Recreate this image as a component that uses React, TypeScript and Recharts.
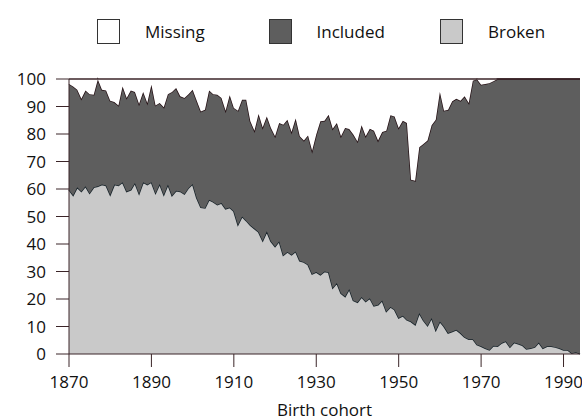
import React from "react";
import {
  AreaChart,
  Area,
  XAxis,
  YAxis,
  Label,
} from "recharts";

// one value per birth year, 1870 to 1994 (shares in %)
const START_YEAR = 1870;

const broken = [
  59.7, 57.7, 60.6, 59.1, 61.0, 58.5, 60.6, 61.0, 61.6, 61.3,
  57.9, 61.6, 61.3, 62.5, 59.1, 59.7, 62.2, 58.3, 62.5, 61.6,
  62.5, 58.5, 61.8, 57.9, 61.6, 57.6, 59.4, 59.1, 58.2, 60.4,
  61.8, 56.7, 53.3, 53.1, 56.1, 55.3, 54.3, 54.9, 52.8, 53.3,
  51.9, 47.0, 50.0, 48.5, 46.8, 45.6, 44.4, 41.2, 44.6, 41.0,
  39.1, 41.0, 35.9, 37.1, 36.1, 37.3, 33.9, 33.4, 32.5, 29.1,
  29.8, 28.8, 30.0, 29.7, 24.0, 25.8, 22.1, 20.9, 23.6, 19.5,
  18.8, 20.7, 19.1, 20.3, 17.5, 17.9, 19.5, 15.5, 17.1, 16.1,
  13.1, 13.9, 12.4, 11.8, 10.6, 14.9, 12.2, 10.3, 13.1, 8.6,
  11.8, 10.0, 7.6, 8.2, 8.8, 7.6, 6.1, 5.4, 5.4, 3.4,
  2.8, 2.1, 1.5, 3.0, 2.8, 4.0, 4.6, 2.5, 4.2, 3.7,
  3.2, 1.8, 2.1, 2.5, 4.2, 2.1, 2.8, 2.8, 2.5, 2.1,
  1.5, 1.5, 0.3, 0.6, 0.1,
];

const included = [
  38.5, 39.6, 35.5, 33.7, 34.8, 36.0, 33.7, 38.8, 34.5, 34.5,
  34.2, 30.0, 29.1, 34.8, 34.0, 36.1, 33.1, 32.6, 32.8, 29.7,
  35.4, 31.9, 29.5, 31.8, 32.9, 37.7, 37.3, 34.6, 34.9, 34.1,
  34.3, 35.4, 34.9, 35.7, 39.7, 39.2, 40.0, 38.2, 35.7, 40.8,
  37.6, 41.5, 42.5, 44.0, 37.8, 35.6, 42.9, 41.2, 41.8, 41.2,
  40.1, 43.0, 47.5, 48.1, 44.6, 48.3, 45.3, 44.2, 47.0, 44.8,
  50.0, 55.8, 54.8, 57.3, 57.9, 58.2, 57.1, 61.3, 58.2, 60.3,
  58.5, 62.5, 60.1, 61.6, 63.7, 59.7, 61.2, 65.7, 69.7, 70.3,
  69.1, 70.9, 71.6, 51.6, 52.4, 60.3, 64.2, 67.3, 70.1, 76.6,
  83.5, 78.5, 81.2, 83.7, 84.0, 84.5, 87.6, 85.9, 94.0, 96.5,
  95.1, 96.1, 97.0, 96.2, 97.2, 96.0, 95.4, 97.5, 95.8, 96.3,
  96.8, 98.2, 97.9, 97.5, 95.8, 97.9, 97.2, 97.2, 97.5, 97.9,
  98.5, 98.5, 99.7, 99.4, 99.9,
];

const missing = [
  1.8, 2.7, 3.9, 7.2, 4.2, 5.5, 5.7, 0.2, 3.9, 4.2,
  7.9, 8.4, 9.6, 2.7, 6.9, 4.2, 4.7, 9.1, 4.7, 8.7,
  2.1, 9.6, 8.7, 10.3, 5.5, 4.7, 3.3, 6.3, 6.9, 5.5,
  3.9, 7.9, 11.8, 11.2, 4.2, 5.5, 5.7, 6.9, 11.5, 5.9,
  10.5, 11.5, 7.5, 7.5, 15.4, 18.8, 12.7, 17.6, 13.6, 17.8,
  20.8, 16.0, 16.6, 14.8, 19.3, 14.4, 20.8, 22.4, 20.5, 26.1,
  20.2, 15.4, 15.2, 13.0, 18.1, 16.0, 20.8, 17.8, 18.2, 20.2,
  22.7, 16.8, 20.8, 18.1, 18.8, 22.4, 19.3, 18.8, 13.2, 13.6,
  17.8, 15.2, 16.0, 36.6, 37.0, 24.8, 23.6, 22.4, 16.8, 14.8,
  4.7, 11.5, 11.2, 8.1, 7.2, 7.9, 6.3, 8.7, 0.6, 0.1,
  2.1, 1.8, 1.5, 0.8, 0, 0, 0, 0, 0, 0,
  0, 0, 0, 0, 0, 0, 0, 0, 0, 0,
  0, 0, 0, 0, 0,
];

const xTicks = [1870, 1890, 1910, 1930, 1950, 1970, 1990];
const yTicks = [0, 10, 20, 30, 40, 50, 60, 70, 80, 90, 100];

const legendItems = [
  { name: "Missing", color: "#ffffff" },
  { name: "Included", color: "#5e5e5e" },
  { name: "Broken", color: "#c9c9c9" },
];

const data = broken.map((b, i) => ({
  year: START_YEAR + i,
  broken: b,
  included: included[i],
  missing: missing[i],
}));

const FONT = "'Open Sans', sans-serif";
const AXIS = "#3b2528";
const TEXT = "#111";
const FS = 17;

export default function App() {
  return (
    <div
      style={{
        position: "absolute",
        left: 0,
        top: 0,
        width: 582,
        height: 420,
        background: "#fff",
        fontFamily: FONT,
      }}
    >
      {legendItems.map((item, i) => (
        <div
          key={item.name}
          style={{
            position: "absolute",
            left: 97 + i * 171.5,
            top: 19,
            display: "flex",
            alignItems: "center",
          }}
        >
          <div
            style={{
              width: 23,
              height: 25,
              boxSizing: "border-box",
              border: "1px solid #333",
              background: item.color,
            }}
          />
          <span
            style={{
              marginLeft: 25,
              fontSize: FS,
              color: TEXT,
            }}
          >
            {item.name}
          </span>
        </div>
      ))}
      <AreaChart
        width={582}
        height={420}
        data={data}
        margin={{ top: 79, right: 2, left: 0, bottom: 0 }}
      >
        <XAxis
          dataKey="year"
          type="number"
          domain={[1870, 1994]}
          ticks={xTicks}
          height={66}
          tickSize={13}
          tickMargin={9}
          stroke={AXIS}
          tick={{ fill: TEXT, fontSize: FS, fontFamily: FONT }}
        >
          <Label
            value="Birth cohort"
            position="insideBottom"
            offset={4}
            style={{ fill: TEXT, fontSize: FS, fontFamily: FONT }}
          />
        </XAxis>
        <YAxis
          type="number"
          domain={[0, 100]}
          ticks={yTicks}
          width={69}
          tickSize={13}
          tickMargin={10}
          stroke={AXIS}
          tick={{ fill: TEXT, fontSize: FS, fontFamily: FONT }}
        />
        <Area
          type="linear"
          dataKey="broken"
          stackId="1"
          fill="#c9c9c9"
          fillOpacity={1}
          stroke="#17232a"
          strokeWidth={1.5}
          isAnimationActive={false}
        />
        <Area
          type="linear"
          dataKey="included"
          stackId="1"
          fill="#5e5e5e"
          fillOpacity={1}
          stroke="#241014"
          strokeWidth={1.5}
          isAnimationActive={false}
        />
        <Area
          type="linear"
          dataKey="missing"
          stackId="1"
          fill="#ffffff"
          fillOpacity={1}
          stroke="#3b2528"
          strokeWidth={1.5}
          isAnimationActive={false}
        />
      </AreaChart>
    </div>
  );
}
